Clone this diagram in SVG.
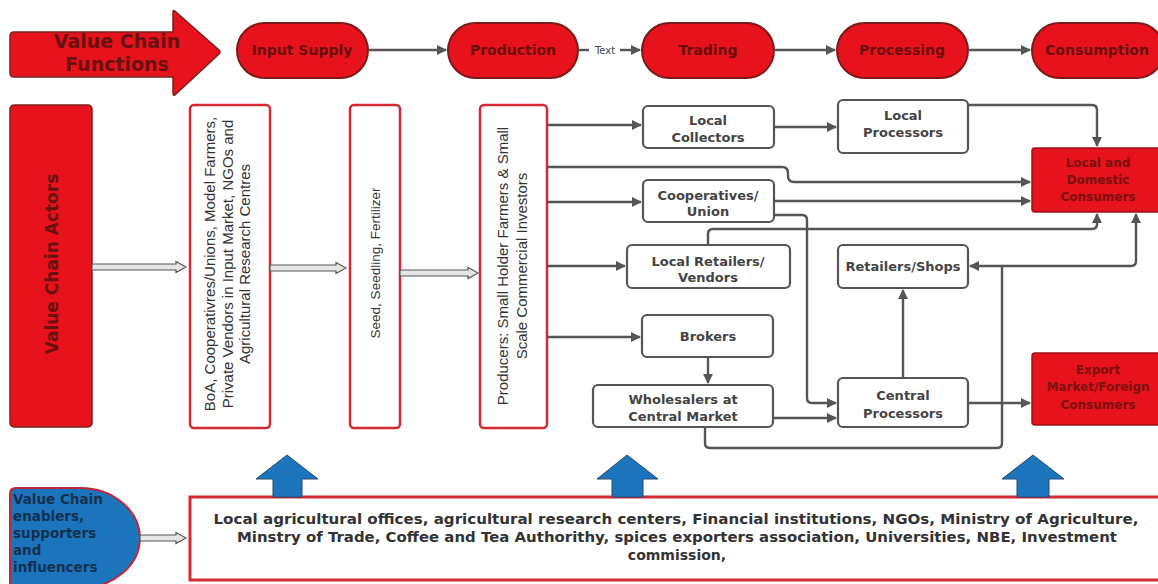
<svg xmlns="http://www.w3.org/2000/svg" width="1158" height="584" viewBox="0 0 1158 584">
  <defs>
    <marker id="ah" viewBox="0 0 10 10" refX="9" refY="5" markerWidth="11" markerHeight="10" markerUnits="userSpaceOnUse" orient="auto">
      <path d="M0,0 L10,5 L0,10 Z" fill="#555"/>
    </marker>
    <style>
      .pill { fill: #e8121c; stroke: #7a1a1a; stroke-width: 2; }
      .ptxt { font-family: "DejaVu Sans", sans-serif; font-weight: bold; font-size: 14px; fill: #6a0d0d; text-anchor: middle; }
      .redbox { fill: #e8121c; stroke: #a01018; stroke-width: 1.5; }
      .rtxt { font-family: "DejaVu Sans", sans-serif; font-weight: bold; font-size: 12px; fill: #7a1010; text-anchor: middle; }
      .actor { fill: #ffffff; stroke: #d42a35; stroke-width: 2.5; }
      .atxt { font-family: "Liberation Sans", Arial, sans-serif; font-size: 15px; fill: #333; text-anchor: middle; }
      .node { fill: #ffffff; stroke: #555; stroke-width: 2.2; }
      .ntxt { font-family: "DejaVu Sans", sans-serif; font-weight: bold; font-size: 13px; fill: #444; text-anchor: middle; }
      .conn { fill: none; stroke: #555; stroke-width: 2.4; }
      .hollow { fill: #e6e6e6; stroke: #555; stroke-width: 1.2; }
      .blue { fill: #1c75bc; stroke: #244a6e; stroke-width: 1; }
      .btxt { font-family: "DejaVu Sans", sans-serif; font-weight: bold; font-size: 14px; fill: #333; text-anchor: middle; }
    </style>
  </defs>

  <rect width="1158" height="584" fill="#ffffff"/>

  <!-- Value chain functions banner -->
  <g id="vc-functions">
    <path d="M14,32 H173 V12 Q173,9 176,12 L219,50 Q221,52 219,54 L176,94 Q173,97 173,93 V77 H14 Q10,77 10,73 V36 Q10,32 14,32 Z" fill="#e8121c" stroke="#7a2020" stroke-width="1.5"/>
    <text x="117" y="48" font-family="DejaVu Sans, sans-serif" font-weight="bold" font-size="19" fill="#6a1010" text-anchor="middle">Value Chain</text>
    <text x="117" y="71" font-family="DejaVu Sans, sans-serif" font-weight="bold" font-size="19" fill="#6a1010" text-anchor="middle">Functions</text>
  </g>

  <g id="f-input"><rect class="pill" x="237" y="23" width="131" height="55" rx="27.5"/><text class="ptxt" x="302" y="55">Input Supply</text></g>
  <g id="f-production"><rect class="pill" x="448" y="23" width="130" height="55" rx="27.5"/><text class="ptxt" x="513" y="55">Production</text></g>
  <g id="f-trading"><rect class="pill" x="642" y="23" width="132" height="55" rx="27.5"/><text class="ptxt" x="708" y="55">Trading</text></g>
  <g id="f-processing"><rect class="pill" x="837" y="23" width="131" height="55" rx="27.5"/><text class="ptxt" x="902" y="55">Processing</text></g>
  <g id="f-consumption"><rect class="pill" x="1032" y="23" width="132" height="55" rx="27.5"/><text class="ptxt" x="1097" y="55">Consumption</text></g>

  <!-- Value chain actors -->
  <g id="vc-actors">
    <rect x="10" y="105" width="82" height="322" rx="4" fill="#e8121c" stroke="#7a2020" stroke-width="1.5"/>
    <text transform="translate(58,264) rotate(-90)" font-family="DejaVu Sans, sans-serif" font-weight="bold" font-size="17" fill="#6a1010" text-anchor="middle">Value Chain Actors</text>
  </g>

  <g id="a-input">
    <rect class="actor" x="190" y="105" width="80" height="323" rx="4"/>
    <text class="atxt" transform="translate(215,264) rotate(-90)">BoA, Cooperativres/Unions, Model Farmers,</text>
    <text class="atxt" transform="translate(233,264) rotate(-90)">Private Vendors in Input Market, NGOs and</text>
    <text class="atxt" transform="translate(250,264) rotate(-90)">Agricultural Research Centres</text>
  </g>

  <g id="a-seed">
    <rect class="actor" x="350" y="105" width="50" height="323" rx="4"/>
    <text class="atxt" style="font-size:13.5px" transform="translate(380,263) rotate(-90)">Seed, Seedling, Fertilizer</text>
  </g>

  <g id="a-producers">
    <rect class="actor" x="480" y="105" width="67" height="323" rx="4"/>
    <text class="atxt" transform="translate(508,266) rotate(-90)">Producers: Small Holder Farmers &amp; Small</text>
    <text class="atxt" transform="translate(527,266) rotate(-90)">Scale Commercial Investors</text>
  </g>

  <!-- Trading and processing actors -->
  <g id="n-local-collectors"><rect class="node" x="643" y="106" width="131" height="42" rx="5"/><text class="ntxt" x="708" y="125">Local</text><text class="ntxt" x="708" y="142">Collectors</text></g>
  <g id="n-local-processors"><rect class="node" x="838" y="100" width="130" height="53" rx="5"/><text class="ntxt" x="903" y="120">Local</text><text class="ntxt" x="903" y="137">Processors</text></g>
  <g id="n-cooperatives"><rect class="node" x="643" y="180" width="131" height="42" rx="5"/><text class="ntxt" x="708" y="200">Cooperatives/</text><text class="ntxt" x="708" y="216">Union</text></g>
  <g id="n-local-retailers"><rect class="node" x="627" y="245" width="163" height="43" rx="5"/><text class="ntxt" x="708" y="266">Local Retailers/</text><text class="ntxt" x="708" y="282">Vendors</text></g>
  <g id="n-retail-shops"><rect class="node" x="838" y="245" width="130" height="43" rx="5"/><text class="ntxt" x="903" y="271">Retailers/Shops</text></g>
  <g id="n-brokers"><rect class="node" x="642" y="315" width="131" height="42" rx="5"/><text class="ntxt" x="708" y="341">Brokers</text></g>
  <g id="n-wholesalers"><rect class="node" x="593" y="385" width="180" height="42" rx="5"/><text class="ntxt" x="683" y="404">Wholesalers at</text><text class="ntxt" x="683" y="421">Central Market</text></g>
  <g id="n-central-processors"><rect class="node" x="838" y="378" width="130" height="49" rx="5"/><text class="ntxt" x="903" y="400">Central</text><text class="ntxt" x="903" y="418">Processors</text></g>

  <!-- Final consumers -->
  <g id="n-domestic"><rect class="redbox" x="1032" y="148" width="130" height="64" rx="3"/><text class="rtxt" x="1098" y="167">Local and</text><text class="rtxt" x="1098" y="184">Domestic</text><text class="rtxt" x="1098" y="201">Consumers</text></g>
  <g id="n-export"><rect class="redbox" x="1032" y="353" width="130" height="72" rx="3"/><text class="rtxt" x="1098" y="374">Export</text><text class="rtxt" x="1098" y="391">Market/Foreign</text><text class="rtxt" x="1098" y="409">Consumers</text></g>

  <!-- Enablers -->
  <g id="vc-enablers">
    <path d="M10,494 Q10,488 16,488 H80 A60,50 0 0 1 80,588 H10 Z" fill="#1c75bc" stroke="#c0263a" stroke-width="2"/>
    <g font-family="DejaVu Sans, sans-serif" font-weight="bold" font-size="13.5" fill="#14304f">
      <text x="13" y="504">Value Chain</text>
      <text x="13" y="521">enablers,</text>
      <text x="13" y="538">supporters</text>
      <text x="13" y="555">and</text>
      <text x="13" y="572">influencers</text>
    </g>
  </g>

  <g id="n-support">
    <rect x="190" y="497" width="970" height="83" fill="#ffffff" stroke="#d42a35" stroke-width="3"/>
    <text class="btxt" x="676" y="524" textLength="925" lengthAdjust="spacingAndGlyphs">Local agricultural offices, agricultural research centers, Financial institutions, NGOs, Ministry of Agriculture,</text>
    <text class="btxt" x="677" y="542" textLength="880" lengthAdjust="spacingAndGlyphs">Minstry of Trade, Coffee and Tea Authorithy, spices exporters association, Universities, NBE, Investment</text>
    <text class="btxt" x="677" y="560">commission,</text>
  </g>

  <!-- Support arrows pointing up into the chain -->
  <g id="support-arrows">
    <path class="blue" d="M273,497 V479 H256 L287,455 L318,479 H302 V497 Z"/>
    <path class="blue" d="M612,497 V479 H597 L627,455 L658,479 H643 V497 Z"/>
    <path class="blue" d="M1017,497 V479 H1002 L1033,455 L1064,479 H1049 V497 Z"/>
  </g>

  <!-- Connectors -->
  <g id="connectors">
    <!-- function sequence -->
    <path class="conn" d="M368,50 H446" marker-end="url(#ah)"/>
    <path class="conn" d="M578,50 H589"/>
    <path class="conn" d="M620,50 H640" marker-end="url(#ah)"/>
    <text x="605" y="53.5" font-family="DejaVu Sans, sans-serif" font-size="10" fill="#444" text-anchor="middle">Text</text>
    <path class="conn" d="M774,50 H835" marker-end="url(#ah)"/>
    <path class="conn" d="M968,50 H1030" marker-end="url(#ah)"/>

    <!-- actor chain (hollow arrows) -->
    <path class="hollow" d="M92,264 H176 V261.5 L186,267 L176,272.5 V270 H92 Z"/>
    <path class="hollow" d="M270,265 H336 V262.5 L346,268 L336,273.5 V271 H270 Z"/>
    <path class="hollow" d="M400,270 H468 V267.5 L478,273 L468,278.5 V276 H400 Z"/>
    <path class="hollow" d="M140,535 H176 V532.5 L186,538 L176,543.5 V541 H140 Z"/>

    <!-- producers outward -->
    <path class="conn" d="M547,125 H641" marker-end="url(#ah)"/>
    <path class="conn" d="M547,167 H782 Q788,167 788,173 V176 Q788,182 794,182 H1030" marker-end="url(#ah)"/>
    <path class="conn" d="M547,202 H641" marker-end="url(#ah)" stroke-width="1.8"/>
    <path class="conn" d="M547,266 H625" marker-end="url(#ah)"/>
    <path class="conn" d="M547,337 H640" marker-end="url(#ah)"/>

    <!-- traders and processors -->
    <path class="conn" d="M774,127 H836" marker-end="url(#ah)"/>
    <path class="conn" d="M968,105 H1092 Q1097,105 1097,110 V146" marker-end="url(#ah)"/>
    <path class="conn" d="M774,201 H1030" marker-end="url(#ah)"/>
    <path class="conn" d="M774,215 H802 Q807,215 807,220 V398 Q807,403 812,403 H836" marker-end="url(#ah)"/>
    <path class="conn" d="M708,245 V234 Q708,229 713,229 H1092 Q1097,229 1097,224 V214" marker-end="url(#ah)"/>
    <path class="conn" d="M708,357 V383" marker-end="url(#ah)"/>
    <path class="conn" d="M773,418 H836" marker-end="url(#ah)"/>
    <path class="conn" d="M705,427 V443 Q705,448 710,448 H997 Q1002,448 1002,443 V266 H970" marker-end="url(#ah)"/>
    <path class="conn" d="M1002,266 H1131 Q1136,266 1136,261 V214" marker-end="url(#ah)"/>
    <path class="conn" d="M903,378 V290" marker-end="url(#ah)"/>
    <path class="conn" d="M968,403 H1030" marker-end="url(#ah)"/>
  </g>
</svg>
